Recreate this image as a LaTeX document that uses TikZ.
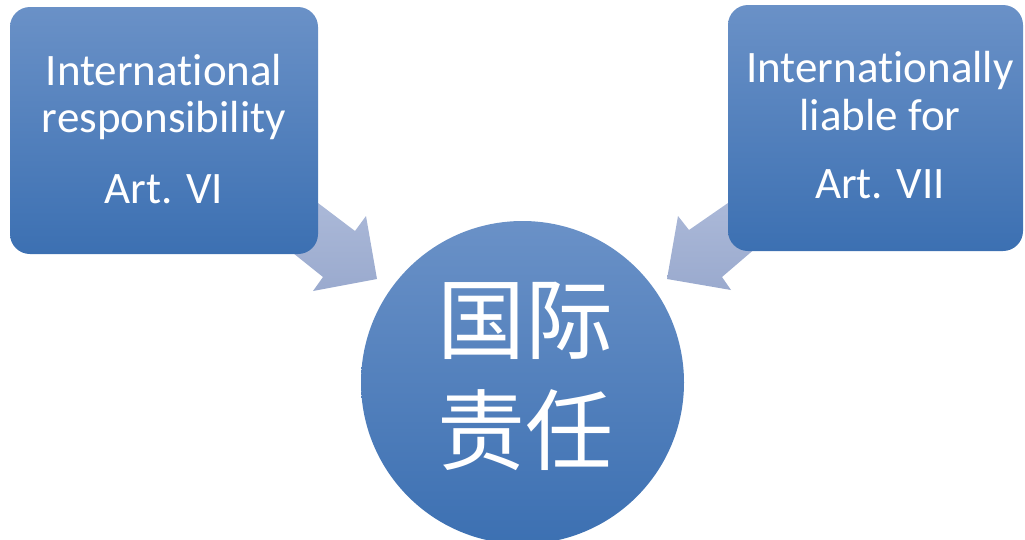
\documentclass[tikz,border=0pt]{standalone}
\usepackage{fontspec}
\setmainfont{Carlito}[Ligatures=NoCommon]
\newfontfamily\cjk{Noto Sans CJK SC}
\definecolor{boxtop}{RGB}{106,145,199}
\definecolor{boxbot}{RGB}{60,112,178}
\definecolor{arrtop}{RGB}{176,189,219}
\definecolor{arrbot}{RGB}{154,170,206}
\tikzset{
  blockbox/.style={rectangle, rounded corners=20pt, top color=boxtop, bottom color=boxbot, draw=none, inner sep=0pt},
  bigarrow/.style={top color=arrtop, bottom color=arrbot, draw=none},
  boxtext/.style={text=white, inner sep=0pt, anchor=base, font=\fontsize{45}{47}\selectfont},
  hub/.style={circle, top color=boxtop, bottom color=boxbot, draw=none, inner sep=0pt, minimum size=323pt},
  hubtext/.style={text=white, inner sep=0pt, font=\cjk\fontsize{88}{100}\selectfont}
}
\begin{document}
\begin{tikzpicture}[x=1pt,y=-1pt]
\useasboundingbox (0,0) rectangle (1025,539);
% arrows (under boxes)
\shade[bigarrow] (281,175) -- (355,231) -- (366,216) -- (377,279) -- (313,291) -- (323,277) -- (263,229) -- cycle;
\shade[bigarrow] (767,176) -- (689,230) -- (678,216) -- (667,279) -- (731,290) -- (722,277) -- (778,229) -- cycle;
% boxes
\node[blockbox, minimum width=308pt, minimum height=247pt] (lbox) at (164,130.5) {};
\node[blockbox, minimum width=295pt, minimum height=246pt] (rbox) at (875.5,128) {};
% circle
\node[hub] (hub) at (522.5,382.5) {};
% left box text
\node[boxtext] (l1) at (164,85) {International};
\node[boxtext] (l2) at (164,132) {responsibility};
\node[boxtext] (l3) at (164,203) {Art. VI};
% right box text
\node[boxtext] (r1) at (880,82) {Internationally};
\node[boxtext] (r2) at (880,130) {liable for};
\node[boxtext] (r3) at (880,198) {Art. VII};
% hub text
\node[hubtext] (h1) at (525,320.5) {国际};
\node[hubtext] (h2) at (525,430) {责任};
\end{tikzpicture}
\end{document}
